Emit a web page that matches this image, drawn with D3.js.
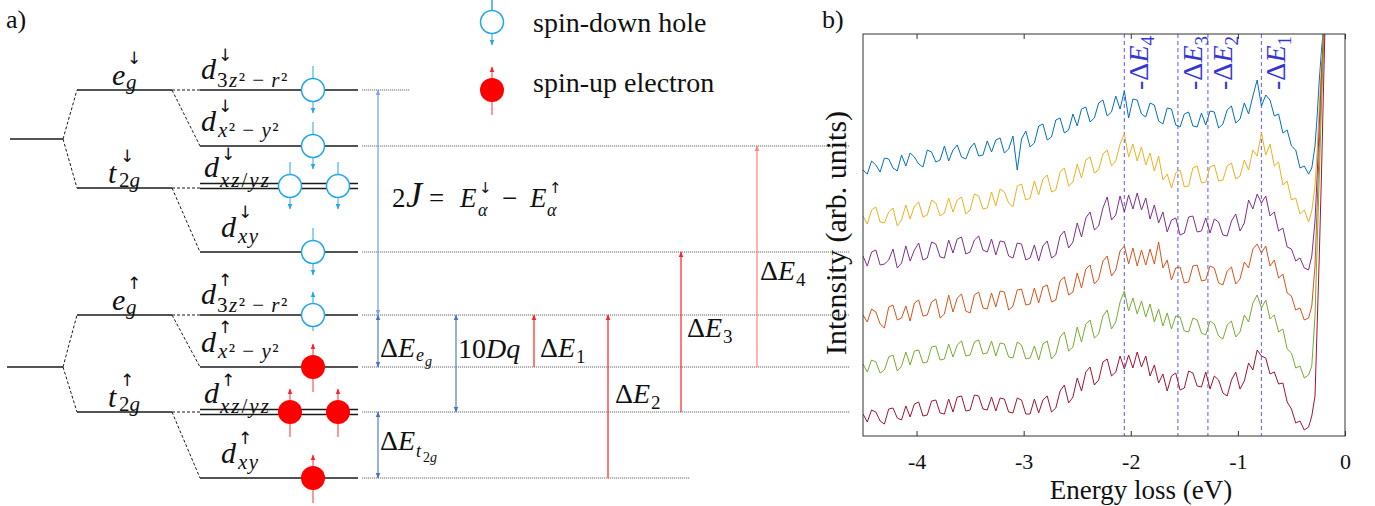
<!DOCTYPE html>
<html><head><meta charset="utf-8">
<script src="https://cdn.jsdelivr.net/npm/d3@7/dist/d3.min.js"></script>
<style>body{margin:0;background:#fff}svg{display:block}</style>
</head><body>
<svg id="c" width="1375" height="506"></svg>
<script>
// ---------------- DATA ----------------
// panel b: RIXS spectra (energy loss in eV, intensity in arb. units, curves stacked)
const energy = [-4.50,-4.46,-4.42,-4.38,-4.34,-4.30,-4.26,-4.22,-4.18,-4.14,
 -4.10,-4.06,-4.02,-3.98,-3.94,-3.90,-3.86,-3.82,-3.78,-3.74,
 -3.70,-3.66,-3.62,-3.58,-3.54,-3.50,-3.46,-3.42,-3.38,-3.34,
 -3.30,-3.26,-3.22,-3.18,-3.14,-3.10,-3.06,-3.02,-2.98,-2.94,
 -2.90,-2.86,-2.82,-2.78,-2.74,-2.70,-2.66,-2.62,-2.58,-2.54,
 -2.50,-2.46,-2.42,-2.38,-2.34,-2.30,-2.26,-2.22,-2.18,-2.14,
 -2.10,-2.06,-2.02,-1.98,-1.94,-1.90,-1.86,-1.82,-1.78,-1.74,
 -1.70,-1.66,-1.62,-1.58,-1.54,-1.50,-1.46,-1.42,-1.38,-1.34,
 -1.30,-1.26,-1.22,-1.18,-1.14,-1.10,-1.06,-1.02,-0.98,-0.94,
 -0.90,-0.86,-0.82,-0.78,-0.74,-0.70,-0.66,-0.62,-0.58,-0.54,
 -0.50,-0.46,-0.42,-0.38,-0.34,
 -0.31,-0.28,-0.26,-0.24,-0.22,-0.20,-0.18];
const specBlue = [266,262,275,271,264,278,277,268,265,281,
 270,283,279,272,269,286,284,274,276,290,
 275,286,291,279,277,288,293,280,281,295,
 284,296,298,283,287,300,266,297,305,289,
 293,310,312,296,299,316,318,303,306,322,
 310,327,329,314,318,333,336,320,324,340,
 327,345,318,337,336,322,319,333,331,315,
 312,328,327,311,309,322,324,310,309,323,
 311,325,324,308,312,326,330,313,317,333,
 322,340,356,330,341,336,320,322,303,306,
 290,286,268,270,262,
 268,290,320,356,385,410,440];
const specYellow = [220,212,226,229,214,213,224,228,210,216,
 231,217,230,234,219,221,236,233,220,223,
 238,224,236,239,222,226,242,240,227,228,
 244,230,247,244,233,229,250,252,236,238,
 255,241,257,261,244,246,264,268,250,254,
 272,258,276,279,263,266,282,286,270,275,
 292,302,279,292,275,289,271,283,265,280,
 256,262,248,263,266,249,250,268,270,253,
 254,269,271,255,256,270,273,257,260,276,
 266,286,280,303,281,292,270,274,251,255,
 236,238,222,226,214,
 225,250,285,330,370,405,440];
const specPurple = [180,170,184,186,171,172,176,187,168,173,
 190,175,186,193,176,178,194,192,179,178,
 196,183,197,199,182,184,196,200,186,184,
 197,181,195,194,180,178,193,192,176,178,
 191,175,190,195,178,181,200,205,188,194,
 213,199,218,224,206,210,228,239,216,221,
 240,224,241,227,243,226,238,217,231,213,
 224,204,216,218,201,203,219,220,204,205,
 218,203,217,214,201,200,215,222,205,213,
 236,227,242,233,240,220,224,205,208,189,
 187,175,178,168,166,
 180,215,260,310,360,400,440];
const specOrange = [121,114,127,124,112,108,129,131,116,118,
 130,115,133,136,120,121,134,137,118,122,
 141,124,138,142,125,123,141,144,128,127,
 143,129,145,144,126,130,146,147,131,132,
 148,133,149,151,134,136,155,159,141,144,
 163,148,167,171,152,157,175,180,160,166,
 185,190,172,188,170,186,171,187,172,194,
 168,176,156,168,169,153,154,170,171,155,
 156,170,168,153,151,165,169,152,157,174,
 168,187,192,183,190,170,176,158,162,143,
 140,126,128,116,118,
 130,170,230,290,350,400,440];
const specGreen = [72,64,76,74,63,66,79,81,65,70,
 84,71,85,86,73,74,89,90,76,77,
 92,79,91,95,80,81,94,96,82,83,
 95,80,93,92,79,78,94,91,77,78,
 90,76,92,95,77,82,99,104,85,89,
 109,94,112,116,98,102,120,126,107,114,
 134,145,125,138,122,135,119,132,114,127,
 110,123,107,120,119,105,104,118,116,103,
 101,115,112,100,97,111,115,99,104,121,
 114,133,141,128,136,117,121,104,107,87,
 83,68,70,58,61,
 70,120,190,260,330,390,440];
const specRed = [22,14,26,24,15,12,27,28,18,16,
 30,19,32,34,20,21,35,36,23,22,
 37,24,39,40,25,26,41,40,27,26,
 39,25,38,37,24,23,38,36,22,22,
 37,23,36,40,24,28,45,51,33,39,
 58,45,64,69,51,56,74,77,60,64,
 80,67,81,68,84,69,80,60,71,53,
 62,45,60,63,46,48,65,63,50,49,
 64,47,60,56,43,40,56,64,47,55,
 73,66,86,80,78,62,64,52,53,34,
 27,13,15,6,9,
 20,40,110,180,260,350,440];
const spectra = [specBlue, specYellow, specPurple, specOrange, specGreen, specRed];
const specColors = ["#0072BD","#EDB120","#7E2F8E","#D95319","#77AC30","#A2142F"];
const xTicks = [-4,-3,-2,-1,0];
const markerEnergies = [-2.06,-1.56,-1.28,-0.78];
const markerSubs = ["4","3","2","1"];

// panel a: level energies (arbitrary units, larger = higher)
const dLevelsDown = [410, 354, 314, 248];   // 3z2-r2, x2-y2, xz/yz, xy  (spin down)
const dLevelsUp   = [185, 133, 88, 22];     // same, spin up
const groupDown = [361, 410, 312];          // free-ion, eg, t2g (spin down)
const groupUp   = [133, 185, 88];           // free-ion, eg, t2g (spin up)
const subLabels = ["3z²\u2009−\u2009r²","x²\u2009−\u2009y²","xz/yz","xy"];
const blueGaps = [[185,410],[133,185],[22,88]];       // 2J, ΔE_eg, ΔE_t2g
const tenDq = [88,185];
const redTransitions = [[133,185],[22,185],[88,248],[133,354]]; // ΔE1..ΔE4

// ---------------- DRAW ----------------
const svg = d3.select("#c");
const serif = "'Liberation Serif','Times New Roman',serif";
const arrowFont = "'DejaVu Sans',sans-serif";
const defs = svg.append("defs");
function marker(id, color, size){
  defs.append("marker").attr("id",id).attr("viewBox","0 0 10 10").attr("refX",9).attr("refY",5)
    .attr("markerWidth",size).attr("markerHeight",size).attr("markerUnits","userSpaceOnUse")
    .attr("orient","auto-start-reverse")
    .append("path").attr("d","M0,1 L10,5 L0,9 Z").attr("fill",color);
}
const holeColor = "#22a7e6";
marker("mHole", holeColor, 6);
marker("mRed", "#ff2020", 6);
marker("mRedL", "#ff8080", 6);
marker("mBlue", "#4472c4", 6);
marker("mBlueL", "#7fa3e3", 6);

function txt(x, y, s, size, o={}){
  const e = svg.append("text").attr("x",x).attr("y",y).attr("font-size",size)
    .attr("font-family", o.family||serif).attr("fill", o.fill||"#111").text(s);
  if(o.italic) e.attr("font-style","italic");
  if(o.anchor) e.attr("text-anchor",o.anchor);
  return e;
}
// one <text> made of absolutely positioned pieces: [str, x, y, size, italic, family, letterSpacing]
function pieces(list){
  const e = svg.append("text").attr("fill","#111").attr("font-family",serif);
  list.forEach(p=>{
    const ts = e.append("tspan").text(p[0]).attr("font-size",p[3]);
    if(p[1]!==null) ts.attr("x",p[1]);
    if(p[2]!==null) ts.attr("y",p[2]);
    if(p[4]) ts.attr("font-style","italic");
    if(p[5]) ts.attr("font-family",p[5]);
    if(p[6]) ts.attr("letter-spacing",p[6]);
  });
  return e;
}
function subPieces(s, x, y, size, ls){
  const out=[]; let cur="", it=null;
  for(const ch of s){ const isL=/[a-z]/.test(ch); if(it===null||isL===it){cur+=ch;it=isL;} else {out.push([cur,it]);cur=ch;it=isL;} }
  if(cur) out.push([cur,it]);
  return out.map((p,k)=>[p[0], k===0?x:null, k===0?y:null, size, p[1], null, ls]);
}

// ===== Panel a =====
const yL = d3.scaleLinear().domain([0,500]).range([500,0]);
txt(6, 28, "a)", 26);

const lineCol = "#1a1a1a";
function seg(x1,y1,x2,y2,o={}){
  return svg.append("line").attr("x1",x1).attr("y1",y1).attr("x2",x2).attr("y2",y2)
    .attr("stroke",o.stroke||lineCol).attr("stroke-width",o.w||1.3)
    .attr("stroke-dasharray",o.dash||null).attr("marker-end",o.me||null).attr("marker-start",o.ms||null);
}
const dash = "3,2";
function block(group, levels, arrow){
  const [base, eg, t2g] = group.map(yL);
  const baseX0 = arrow==="↓"?10:7;
  seg(baseX0, base, 63, base);
  seg(63, base, 77, eg, {dash, w:1});
  seg(63, base, 77, t2g, {dash, w:1});
  seg(77, eg, 172, eg);
  seg(77, t2g, 172, t2g);
  const L = levels.map(yL);
  seg(172, eg, 200, L[0], {dash, w:1});
  seg(172, eg, 200, L[1], {dash, w:1});
  seg(172, t2g, 200, t2g, {dash, w:1});
  seg(172, t2g, 200, L[3], {dash, w:1});
  seg(200, L[0], 358, L[0]);
  seg(200, L[1], 358, L[1]);
  seg(200, L[2]-2.5, 358, L[2]-2.5);
  seg(200, L[2]+2.5, 358, L[2]+2.5);
  seg(200, L[3], 358, L[3]);
  // e_g, t_2g labels
  pieces([["e",112,eg-5,30,true],[arrow,127,eg-26,17,false,arrowFont],["g",126,eg-1,21,true]]);
  pieces([["t",108,t2g-5,30,true],[arrow,120,t2g-26,17,false,arrowFont],["2",119,t2g-1,21,false],["g",null,null,21,true]]);
  // d labels
  const geo = [
    {dx:201, dy:-11, ax:218, ay:-29, sx:217, sy:-3, ls:1.5},
    {dx:201, dy:-15, ax:218, ay:-34, sx:218, sy:-9, ls:1.5},
    {dx:204, dy:-9,  ax:221, ay:-26, sx:220, sy:1,  ls:2},
    {dx:221, dy:-15, ax:238, ay:-34, sx:238, sy:-9, ls:1.5}
  ];
  geo.forEach((g,i)=>{
    pieces([["d",g.dx,L[i]+g.dy,30,true],[arrow,g.ax,L[i]+g.ay,17,false,arrowFont]]
      .concat(subPieces(subLabels[i], g.sx, L[i]+g.sy, 21, g.ls)));
  });
}
block(groupDown, dLevelsDown, "↓");
block(groupUp, dLevelsUp, "↑");

// dotted extension lines
const ext = [[dLevelsDown[0],410],[dLevelsDown[1],850],[dLevelsDown[3],850],[dLevelsUp[0],850],[dLevelsUp[1],850],[dLevelsUp[2],850],[dLevelsUp[3],690]];
ext.forEach(e=>seg(362, yL(e[0]), e[1], yL(e[0]), {stroke:"#6a6a6a", w:1.2, dash:"1.2,0.8"}));

// holes and electrons
function hole(cx, cy, dir){
  if(dir==="down") seg(cx, cy-24, cx, cy+23, {stroke:holeColor, w:1, me:"url(#mHole)"});
  else seg(cx, cy+16, cx, cy-23, {stroke:holeColor, w:1, me:"url(#mHole)"});
  svg.append("circle").attr("cx",cx).attr("cy",cy).attr("r",11.5).attr("fill","#fff").attr("stroke",holeColor).attr("stroke-width",1.5);
}
function electron(cx, cy){
  seg(cx, cy+25, cx, cy-23, {stroke:"#ff3030", w:1, me:"url(#mRed)"});
  svg.append("circle").attr("cx",cx).attr("cy",cy).attr("r",12).attr("fill","#ff0000");
}
const Ld = dLevelsDown.map(yL), Lu = dLevelsUp.map(yL);
hole(313, Ld[0], "down"); hole(313, Ld[1], "down"); hole(290, Ld[2], "down"); hole(338, Ld[2], "down"); hole(313, Ld[3], "down");
hole(313, Lu[0], "up"); electron(313, Lu[1]); electron(290, Lu[2]); electron(338, Lu[2]); electron(313, Lu[3]);

// legend
hole(492, 22, "down");
seg(492, 0, 492, 10, {stroke:holeColor, w:1});
electron(492, 90);
txt(533, 32, "spin-down hole", 28);
txt(533, 92, "spin-up electron", 28);

// blue gap arrows
seg(378, yL(blueGaps[0][0]), 378, yL(blueGaps[0][1]), {stroke:"#7fa3e3", w:1.3, me:"url(#mBlueL)", ms:"url(#mBlueL)"});
seg(378, yL(blueGaps[1][0]), 378, yL(blueGaps[1][1]), {stroke:"#4472c4", w:1.1, me:"url(#mBlue)", ms:"url(#mBlue)"});
seg(378, yL(blueGaps[2][0]), 378, yL(blueGaps[2][1]), {stroke:"#4472c4", w:1.1, me:"url(#mBlue)", ms:"url(#mBlue)"});
seg(456, yL(tenDq[0]), 456, yL(tenDq[1]), {stroke:"#4472c4", w:1.1, me:"url(#mBlue)", ms:"url(#mBlue)"});
// red transitions
const redX = [534, 608, 681, 757];
redTransitions.forEach((t,i)=>{
  const light = i===3;
  seg(redX[i], yL(t[0]), redX[i], yL(t[1]), {stroke: light?"#ff8080":"#ff2020", w:1.2, me: light?"url(#mRedL)":"url(#mRed)"});
});

// 2J = E↓α − E↑α
pieces([
  ["2",392,207,27,false],["J",406,207,36,true],["=",429,207,27,false],
  ["E",460,207,27,true],["↓",479,193,15,false,arrowFont],["α",478,216,18,true],
  ["−",502,207,27,false],
  ["E",530,207,27,true],["↑",549,193,15,false,arrowFont],["α",547,216,18,true]
]);
// ΔE_eg
pieces([["Δ",380,357,28,false],["E",null,null,28,true],["e",416,361,18,true],["g",425,366,14,true]]);
// ΔE_t2g
pieces([["Δ",380,450,28,false],["E",null,null,28,true],["t",416,457,18,true],["2",423,462,14,false],["g",null,null,14,true]]);
// 10Dq
pieces([["10",458,358,28,false],["Dq",null,null,28,true]]);
// ΔE1..4
const dEpos = [[540,357],[615,403],[687,337],[760,280]];
dEpos.forEach((p,i)=>{
  pieces([["Δ",p[0],p[1],28,false],["E",null,null,28,true],[String(i+1),p[0]+36,p[1]+6,19,false]]);
});

// ===== Panel b =====
const P = {left:863, right:1345, top:34, bottom:436};
const x = d3.scaleLinear().domain([-4.5,0]).range([P.left,P.right]);
const y = d3.scaleLinear().domain([0,402]).range([P.bottom,P.top]);
txt(822, 28, "b)", 26);
defs.append("clipPath").attr("id","pc").append("rect")
  .attr("x",P.left).attr("y",P.top).attr("width",P.right-P.left).attr("height",P.bottom-P.top);
const gPlot = svg.append("g").attr("clip-path","url(#pc)");
markerEnergies.forEach(e=>{
  gPlot.append("line").attr("x1",x(e)).attr("x2",x(e)).attr("y1",P.top).attr("y2",P.bottom)
    .attr("stroke","#7474f2").attr("stroke-width",1.2).attr("stroke-dasharray","4,3");
});
const line = d3.line().x((d,i)=>x(energy[i])).y(d=>y(d));
spectra.forEach((s,i)=>{
  gPlot.append("path").attr("d",line(s)).attr("fill","none").attr("stroke",specColors[i]).attr("stroke-width",1);
});
markerEnergies.forEach((e,i)=>{
  const t = svg.append("text").attr("transform",`translate(${x(e)+24},36) rotate(-90)`)
    .attr("text-anchor","end").attr("font-family",serif).attr("font-size",28).attr("fill","#3636d2");
  t.append("tspan").text("-Δ");
  t.append("tspan").text("E").attr("font-style","italic");
  t.append("tspan").text(markerSubs[i]).attr("font-size",19).attr("dy",6);
});
svg.append("rect").attr("x",P.left).attr("y",P.top).attr("width",P.right-P.left).attr("height",P.bottom-P.top)
  .attr("fill","none").attr("stroke","#333").attr("stroke-width",1);
const gx = svg.append("g").attr("transform",`translate(0,${P.bottom})`)
  .call(d3.axisBottom(x).tickValues(xTicks).tickSize(-5).tickPadding(17).tickFormat(d=>String(d)));
gx.select(".domain").remove();
gx.selectAll("text").attr("font-family",serif).attr("font-size",22).attr("fill","#111");
gx.selectAll("line").attr("stroke","#333");
const gt = svg.append("g").attr("transform",`translate(0,${P.top})`)
  .call(d3.axisTop(x).tickValues(xTicks).tickSize(-5).tickFormat(""));
gt.select(".domain").remove();
gt.selectAll("line").attr("stroke","#333");
txt(1141, 499, "Energy loss (eV)", 27, {anchor:"middle"});
svg.append("text").attr("transform","translate(846,233) rotate(-90)").attr("text-anchor","middle")
  .attr("font-family",serif).attr("font-size",30).attr("fill","#111").text("Intensity (arb. units)");
</script>
</body></html>
